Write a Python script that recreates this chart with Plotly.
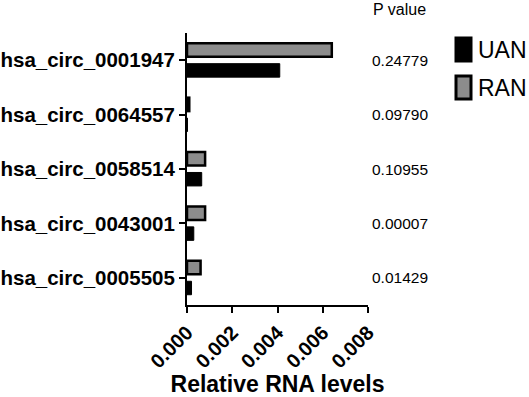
import plotly.graph_objects as go

categories = ["hsa_circ_0001947", "hsa_circ_0064557", "hsa_circ_0058514",
              "hsa_circ_0043001", "hsa_circ_0005505"]
uan_values = [0.0041, 0.00002, 0.00065, 0.0003, 0.0002]
ran_values = [0.0064, 0.0001, 0.0008, 0.0008, 0.0006]
p_values = ["0.24779", "0.09790", "0.10955", "0.00007", "0.01429"]
x_ticks = [0.000, 0.002, 0.004, 0.006, 0.008]

FONT = "Liberation Sans, Arial, sans-serif"

fig = go.Figure()
fig.add_trace(go.Bar(y=categories, x=ran_values, orientation="h", name="RAN",
                     marker=dict(color="#8c8c8c", line=dict(color="black", width=2.5)),
                     showlegend=False))
fig.add_trace(go.Bar(y=categories, x=uan_values, orientation="h", name="UAN",
                     marker=dict(color="black", line=dict(color="black", width=1)),
                     showlegend=False))

fig.update_layout(
    width=529, height=397,
    margin=dict(l=187, r=161, t=33, b=92),
    paper_bgcolor="white", plot_bgcolor="white",
    barmode="group", bargap=0.25, bargroupgap=0.34,
    font=dict(family=FONT, color="black"),
)
fig.update_xaxes(
    range=[0, 0.008], tickvals=x_ticks, tickformat=".3f", tickangle=-45,
    showline=True, linecolor="black", linewidth=2, showgrid=False, zeroline=False,
    ticks="outside", ticklen=6, tickwidth=2, tickcolor="black",
    tickfont=dict(size=20, family=FONT, weight="bold"), automargin=False,
    title=dict(text="<b>Relative RNA levels</b>", font=dict(size=23, family=FONT), standoff=10),
)
fig.update_yaxes(
    categoryorder="array", categoryarray=categories, autorange="reversed",
    showline=True, linecolor="black", linewidth=2, showgrid=False, zeroline=False,
    ticks="outside", ticklen=6, tickwidth=2, tickcolor="black",
    tickfont=dict(size=20.5, family=FONT, weight="bold"), automargin=False,
)

# P value column
fig.add_annotation(x=1.0, xref="paper", xanchor="left", xshift=3, y=1.0, yref="paper",
                   yanchor="bottom", yshift=13, text="P value", showarrow=False,
                   font=dict(size=16, family=FONT))
for cat, p in zip(categories, p_values):
    fig.add_annotation(x=1.0, xref="paper", xanchor="left", xshift=2, y=cat, yref="y",
                       text=p, showarrow=False, font=dict(size=15.5, family=FONT))

# Legend
legend_items = [("UAN", "black"), ("RAN", "#8c8c8c")]
for i, (name, col) in enumerate(legend_items):
    y_top = 1 - (38 + i * 38 - 33) / 272
    y_bot = y_top - 23 / 272
    fig.add_shape(type="rect", xref="paper", yref="paper",
                  x0=1 + (456 - 368) / 181, x1=1 + (471 - 368) / 181, y0=y_bot, y1=y_top,
                  fillcolor=col, line=dict(color="black", width=3))
    fig.add_annotation(x=1 + (476 - 368) / 181, xref="paper", xanchor="left",
                       y=(y_top + y_bot) / 2, yref="paper", yanchor="middle",
                       text=name, showarrow=False, font=dict(size=23, family=FONT))

fig.write_html("out.html", config={"displayModeBar": False},
               post_script="document.body.style.margin='0px';")
